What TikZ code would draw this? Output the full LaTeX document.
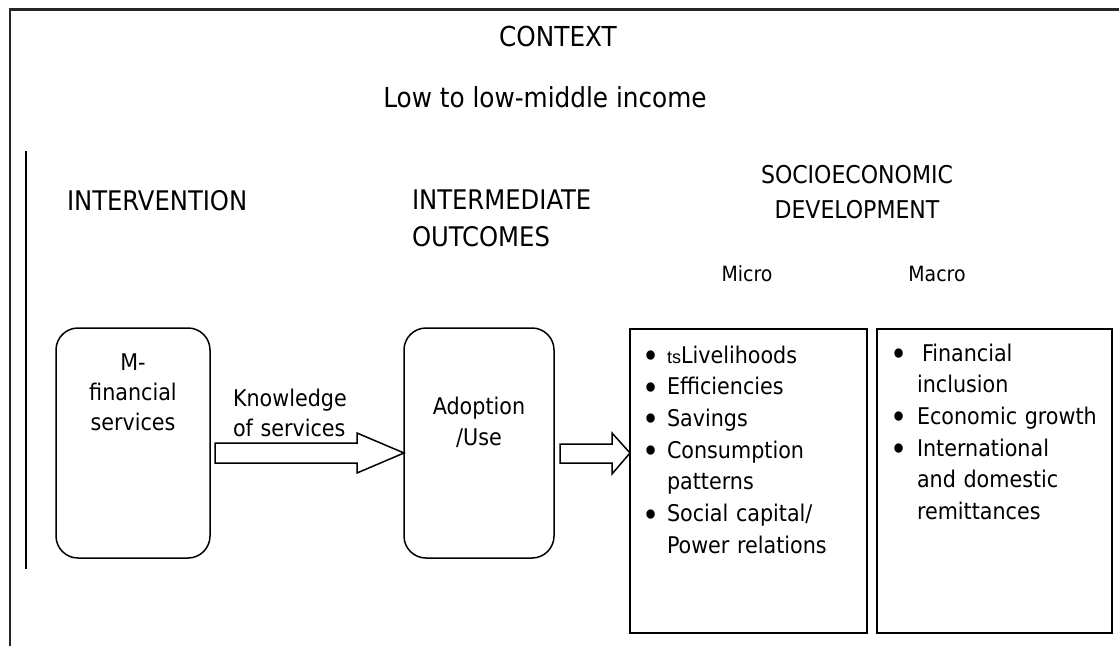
\documentclass[tikz,border=0pt]{standalone}
\usepackage{fontspec}
\usepackage{graphicx}
\setmainfont{DejaVu Sans Condensed}
\newfontfamily\smallsans{Liberation Sans}
\usetikzlibrary{calc}

% bullet hung to the left of the item text
\newcommand\bul[1][16pt]{\leavevmode\llap{\makebox[0pt][c]{\raisebox{-4.5pt}{\scalebox{1.4}{\textbullet}}}\hspace{#1}}}

\tikzset{
  every node/.style={inner sep=0pt, outer sep=0pt},
  title/.style={font=\fontsize{27.5}{36}\selectfont},
  head/.style={font=\fontsize{27}{37}\selectfont},
  sub/.style={font=\fontsize{21}{28}\selectfont},
  body/.style={font=\fontsize{23}{30}\selectfont},
  listtext/.style={font=\fontsize{23}{31.7}\selectfont},
  roundbox/.style={draw, line width=1.5pt, rounded corners=22pt, minimum height=230pt},
  listbox/.style={draw, line width=1.5pt, minimum height=304pt},
  blk/.style={draw, line width=1.5pt, fill=white, line join=miter},
  frame/.style={line width=2.6pt, draw=black!85},
}

\begin{document}
\begin{tikzpicture}[x=1pt, y=-1pt]
  \useasboundingbox (0,0) rectangle (1119,646);

  % outer context frame and the left rule
  \draw[frame] (10,646) -- (10,9.5) -- (1119,9.5);
  \draw[line width=1.3pt] (26,151) -- (26,569);

  % context titles
  \node[title, anchor=base] (ctx) at (558,46) {CONTEXT};
  \node[title, anchor=base] (inc) at (545,107) {Low to low-middle income};

  % column headings
  \node[head, anchor=base west] (intv) at (67,210) {INTERVENTION};
  \node[head, anchor=base west, text width=250pt, align=left] (inter) at (412,209) {INTERMEDIATE\\OUTCOMES};
  \node[anchor=base, text width=250pt, align=center, font=\fontsize{24.5}{35}\selectfont] (socio) at (857,183) {SOCIOECONOMIC\\DEVELOPMENT};
  \node[sub, anchor=base] (mic) at (747,281) {Micro};
  \node[sub, anchor=base] (mac) at (937,281) {Macro};

  % boxes
  \node[roundbox, minimum width=154pt] (mfs) at (133,443) {};
  \node[roundbox, minimum width=150pt] (ado) at (479,443) {};
  \node[listbox, minimum width=237pt] (micro) at (748.5,481) {};
  \node[listbox, minimum width=235pt] (macro) at (994.5,481) {};

  % box contents
  \node[body, anchor=base, text width=150pt, align=center] (mfstxt) at (133,370) {M-\\financial\\services};
  \node[body, anchor=base, text width=140pt, align=center, font=\fontsize{23}{31}\selectfont] (adotxt) at (479,414) {Adoption\\/Use};
  \node[listtext, anchor=base west, text width=200pt, align=left] (microlist) at (667,363)
    {\bul{\smallsans\fontsize{18}{31.7}\selectfont ts}Livelihoods\\
     \bul Efficiencies\\
     \bul Savings\\
     \bul Consumption\\
     patterns\\
     \bul Social capital/\\
     Power relations};
  \node[listtext, anchor=base west, text width=200pt, align=left] (macrolist) at (917,361)
    {\bul[18pt]\hspace{5pt}Financial\\
     inclusion\\
     \bul[18pt]Economic growth\\
     \bul[18pt]International\\
     and domestic\\
     remittances};

  % arrow label
  \node[body, anchor=base west, text width=150pt, align=left] (know) at (233,406) {Knowledge\\of services};

  % block arrows
  \draw[blk] ($(mfs.east)+(5,0)$) -- ++(142,0) -- ++(0,-10) -- ($(ado.west)+(0,10)$)
             -- ++(-47,20) -- ++(0,-10) -- ++(-142,0) -- cycle;
  \draw[blk] ($(ado.east)+(6,1)$) -- ++(52,0) -- ++(0,-11) -- ($(micro.west |- ado.east)+(0,10)$)
             -- ++(-18,21) -- ++(0,-11) -- ++(-52,0) -- cycle;
\end{tikzpicture}
\end{document}
